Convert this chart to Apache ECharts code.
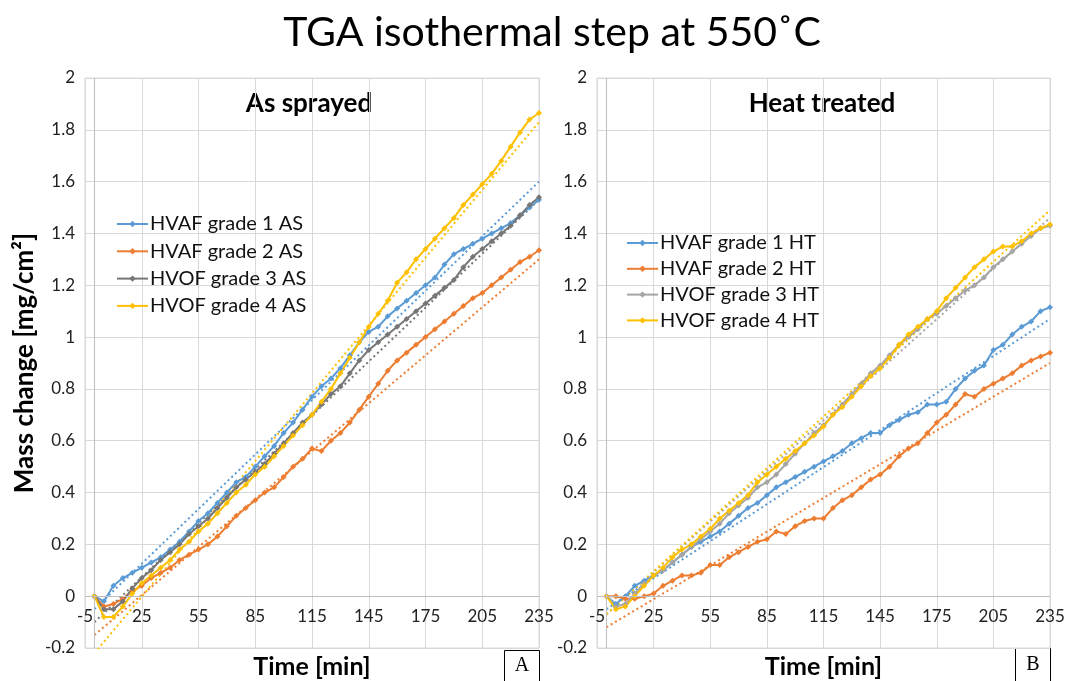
<!DOCTYPE html>
<html>
<head>
<meta charset="utf-8">
<title>TGA isothermal step at 550˚C</title>
<script src="https://cdn.jsdelivr.net/npm/echarts@6/dist/echarts.min.js"></script>
<style>
  html, body { margin: 0; padding: 0; background: #fff; }
  #chart { width: 1065px; height: 681px; }
</style>
</head>
<body>
<div id="chart"></div>
<script>
// time axis (min), one reading every 5 minutes
const timeMin = [0, 5, 10, 15, 20, 25, 30, 35, 40, 45, 50, 55, 60, 65, 70, 75, 80, 85, 90, 95,
  100, 105, 110, 115, 120, 125, 130, 135, 140, 145, 150, 155, 160, 165, 170, 175, 180, 185, 190, 195,
  200, 205, 210, 215, 220, 225, 230, 235]

// As sprayed (mg/cm2)
const hvaf1As = [0, -0.02, 0.04, 0.07, 0.09, 0.11, 0.13, 0.15, 0.18, 0.21,
  0.25, 0.29, 0.32, 0.36, 0.40, 0.44, 0.46, 0.50, 0.54, 0.58,
  0.63, 0.67, 0.72, 0.77, 0.81, 0.84, 0.88, 0.93, 0.98, 1.02,
  1.04, 1.08, 1.11, 1.14, 1.17, 1.20, 1.23, 1.28, 1.32, 1.34,
  1.36, 1.38, 1.40, 1.42, 1.44, 1.47, 1.50, 1.53]
const hvaf2As = [0, -0.04, -0.03, -0.01, 0.02, 0.04, 0.07, 0.09, 0.11, 0.14,
  0.16, 0.18, 0.20, 0.23, 0.27, 0.31, 0.34, 0.37, 0.40, 0.42,
  0.46, 0.50, 0.53, 0.57, 0.56, 0.60, 0.63, 0.67, 0.72, 0.77,
  0.82, 0.87, 0.91, 0.94, 0.97, 1.00, 1.03, 1.06, 1.09, 1.12,
  1.15, 1.17, 1.20, 1.23, 1.26, 1.29, 1.31, 1.335]
const hvof3As = [0, -0.05, -0.05, -0.02, 0.03, 0.07, 0.10, 0.14, 0.17, 0.20,
  0.24, 0.27, 0.30, 0.34, 0.38, 0.42, 0.45, 0.48, 0.51, 0.55,
  0.59, 0.63, 0.67, 0.70, 0.74, 0.78, 0.81, 0.86, 0.91, 0.95,
  0.98, 1.01, 1.04, 1.07, 1.10, 1.13, 1.16, 1.19, 1.22, 1.27,
  1.31, 1.34, 1.37, 1.40, 1.43, 1.47, 1.51, 1.54]
const hvof4As = [0, -0.08, -0.08, -0.04, 0.01, 0.05, 0.08, 0.11, 0.14, 0.18,
  0.21, 0.25, 0.28, 0.32, 0.36, 0.40, 0.43, 0.47, 0.50, 0.54,
  0.58, 0.62, 0.66, 0.70, 0.75, 0.80, 0.86, 0.92, 0.98, 1.04,
  1.09, 1.14, 1.21, 1.25, 1.30, 1.34, 1.38, 1.42, 1.46, 1.51,
  1.55, 1.59, 1.63, 1.68, 1.735, 1.79, 1.84, 1.865]

// Heat treated (mg/cm2)
const hvaf1Ht = [0, -0.03, 0.0, 0.04, 0.06, 0.08, 0.10, 0.13, 0.16, 0.19,
  0.21, 0.23, 0.25, 0.28, 0.31, 0.34, 0.36, 0.39, 0.42, 0.44,
  0.46, 0.48, 0.50, 0.52, 0.54, 0.56, 0.59, 0.61, 0.63, 0.63,
  0.66, 0.68, 0.70, 0.71, 0.74, 0.74, 0.75, 0.80, 0.84, 0.87,
  0.89, 0.95, 0.97, 1.01, 1.04, 1.06, 1.10, 1.115]
const hvaf2Ht = [0, 0.0, -0.01, -0.01, 0.0, 0.01, 0.04, 0.06, 0.08, 0.08,
  0.09, 0.12, 0.12, 0.15, 0.17, 0.19, 0.21, 0.22, 0.25, 0.24,
  0.27, 0.29, 0.30, 0.30, 0.34, 0.37, 0.39, 0.42, 0.45, 0.47,
  0.50, 0.54, 0.57, 0.59, 0.63, 0.67, 0.70, 0.74, 0.78, 0.77,
  0.80, 0.82, 0.84, 0.86, 0.89, 0.91, 0.925, 0.94]
const hvof3Ht = [0, -0.04, -0.03, 0.01, 0.05, 0.08, 0.10, 0.13, 0.16, 0.19,
  0.22, 0.25, 0.28, 0.32, 0.35, 0.38, 0.42, 0.44, 0.47, 0.51,
  0.55, 0.59, 0.63, 0.66, 0.70, 0.74, 0.78, 0.82, 0.86, 0.89,
  0.93, 0.97, 1.00, 1.03, 1.07, 1.09, 1.12, 1.15, 1.18, 1.20,
  1.23, 1.27, 1.30, 1.33, 1.36, 1.39, 1.42, 1.43]
const hvof4Ht = [0, -0.05, -0.04, 0.0, 0.04, 0.08, 0.11, 0.15, 0.18, 0.20,
  0.23, 0.26, 0.30, 0.33, 0.36, 0.39, 0.44, 0.47, 0.50, 0.53,
  0.56, 0.59, 0.62, 0.655, 0.70, 0.73, 0.77, 0.81, 0.85, 0.88,
  0.92, 0.97, 1.01, 1.04, 1.07, 1.10, 1.15, 1.19, 1.23, 1.27,
  1.30, 1.33, 1.35, 1.35, 1.37, 1.40, 1.42, 1.435]

// linear trendlines (dotted), value at start and end
const trendX = [0, 235]
const trendAs = [[-0.05, 1.60], [-0.15, 1.30], [-0.10, 1.53], [-0.22, 1.83]]
const trendHt = [[-0.05, 1.07], [-0.12, 0.90], [-0.07, 1.46], [-0.07, 1.49]]

const namesAs = ['HVAF grade 1 AS', 'HVAF grade 2 AS', 'HVOF grade 3 AS', 'HVOF grade 4 AS']
const namesHt = ['HVAF grade 1 HT', 'HVAF grade 2 HT', 'HVOF grade 3 HT', 'HVOF grade 4 HT']
const colorsAs = ['#5B9BD5', '#ED7D31', '#767676', '#FFC000']
const colorsHt = ['#5B9BD5', '#ED7D31', '#A5A5A5', '#FFC000']

const FONT = 'Lato, "Open Sans", sans-serif'

const pairs = (vals) => timeMin.map((t, i) => [t, vals[i]])

const dataSeries = (name, vals, color, idx) => ({
  name: name,
  type: 'line',
  xAxisIndex: idx,
  yAxisIndex: idx,
  data: pairs(vals),
  symbol: 'diamond',
  symbolSize: 6,
  color: color,
  lineStyle: { width: 2, color: color },
  itemStyle: { color: color }
})

const trendSeries = (key, ends, color, idx) => ({
  name: key,
  type: 'line',
  xAxisIndex: idx,
  yAxisIndex: idx,
  data: trendX.map((t, i) => [t, ends[i]]),
  symbol: 'none',
  lineStyle: { width: 2, color: color, type: [2, 3] },
  z: 1
})

// axis lines crossing at x = 0 and y = 0 (excel style)
const zeroLines = {
  silent: true,
  symbol: 'none',
  label: { show: false },
  lineStyle: { color: '#bfbfbf', type: 'solid', width: 1 },
  data: [{ xAxis: 0 }, { yAxis: 0 }]
}

const series = []
namesAs.forEach((n, i) => series.push(trendSeries('trend AS ' + (i + 1), trendAs[i], colorsAs[i], 0)))
namesHt.forEach((n, i) => series.push(trendSeries('trend HT ' + (i + 1), trendHt[i], colorsHt[i], 1)))
series[0].markLine = zeroLines
series[4].markLine = zeroLines
namesAs.forEach((n, i) => series.push(dataSeries(n, [hvaf1As, hvaf2As, hvof3As, hvof4As][i], colorsAs[i], 0)))
namesHt.forEach((n, i) => series.push(dataSeries(n, [hvaf1Ht, hvaf2Ht, hvof3Ht, hvof4Ht][i], colorsHt[i], 1)))

const xAxisBase = (gridIndex) => ({
  gridIndex: gridIndex,
  type: 'value',
  min: -5,
  max: 235,
  interval: 30,
  name: 'Time [min]',
  nameLocation: 'middle',
  nameGap: 6,
  nameMoveOverlap: false,
  nameTextStyle: { fontSize: 25, fontWeight: 'bold', color: '#000', fontFamily: FONT },
  axisLine: { show: false, onZero: false },
  axisTick: { show: false },
  // labels sit just under the zero line, like the excel chart
  axisLabel: { fontSize: 17, color: '#222', fontFamily: FONT, margin: -40 },
  splitLine: { show: true, lineStyle: { color: '#d9d9d9', width: 1 } }
})

const yAxisBase = (gridIndex) => ({
  gridIndex: gridIndex,
  type: 'value',
  min: -0.2,
  max: 2,
  interval: 0.2,
  axisLine: { show: false, onZero: false },
  axisTick: { show: false },
  axisLabel: { fontSize: 17, color: '#222', fontFamily: FONT, margin: 10 },
  splitLine: { show: true, lineStyle: { color: '#d9d9d9', width: 1 } }
})

const yLeft = yAxisBase(0)
yLeft.name = 'Mass change [mg/cm²]'
yLeft.nameLocation = 'middle'
yLeft.nameRotate = 90
yLeft.nameGap = 47
yLeft.nameTextStyle = { fontSize: 26, fontWeight: 'bold', color: '#000', fontFamily: FONT }

const legendBase = (names, left, top, gap) => ({
  data: names,
  orient: 'vertical',
  left: left,
  top: top,
  padding: 0,
  itemWidth: 31,
  itemHeight: 8,
  itemGap: gap,
  textStyle: { fontSize: 20, color: '#111', fontFamily: FONT, lineHeight: 20, padding: [0, 0, 0, -3] }
})

const option = {
  animation: false,
  backgroundColor: '#fff',
  grid: [
    { left: 85, top: 78, width: 454, height: 570, outerBoundsMode: 'none', containLabel: false, show: true, borderColor: '#d9d9d9', borderWidth: 1 },
    { left: 597, top: 78, width: 453, height: 570, outerBoundsMode: 'none', containLabel: false, show: true, borderColor: '#d9d9d9', borderWidth: 1 }
  ],
  xAxis: [xAxisBase(0), xAxisBase(1)],
  yAxis: [yLeft, yAxisBase(1)],
  legend: [
    legendBase(namesAs, 116, 214, 7.3),
    legendBase(namesHt, 626, 233, 5.8)
  ],
  graphic: [
    { type: 'text', x: 552, y: 33, style: { text: 'TGA isothermal step at 550˚C', fontSize: 41, fontFamily: FONT, fill: '#000', align: 'center', verticalAlign: 'middle' } },
    { type: 'text', x: 309, y: 104, style: { text: 'As sprayed', fontSize: 26, fontWeight: 'bold', fontFamily: FONT, fill: '#000', align: 'center', verticalAlign: 'middle' } },
    { type: 'text', x: 822, y: 104, style: { text: 'Heat treated', fontSize: 26, fontWeight: 'bold', fontFamily: FONT, fill: '#000', align: 'center', verticalAlign: 'middle' } },
    { type: 'rect', shape: { x: 504.5, y: 650.5, width: 35, height: 31 }, style: { fill: '#fff', stroke: '#000', lineWidth: 1 } },
    { type: 'text', x: 522, y: 666, style: { text: 'A', fontSize: 20, fontFamily: '"Liberation Serif", serif', fill: '#000', align: 'center', verticalAlign: 'middle' } },
    { type: 'rect', shape: { x: 1015.5, y: 648.5, width: 35, height: 33 }, style: { fill: '#fff', stroke: '#000', lineWidth: 1 } },
    { type: 'text', x: 1033, y: 665, style: { text: 'B', fontSize: 20, fontFamily: '"Liberation Serif", serif', fill: '#000', align: 'center', verticalAlign: 'middle' } }
  ],
  series: series
}

const chart = echarts.init(document.getElementById('chart'))
chart.setOption(option)
</script>
</body>
</html>
